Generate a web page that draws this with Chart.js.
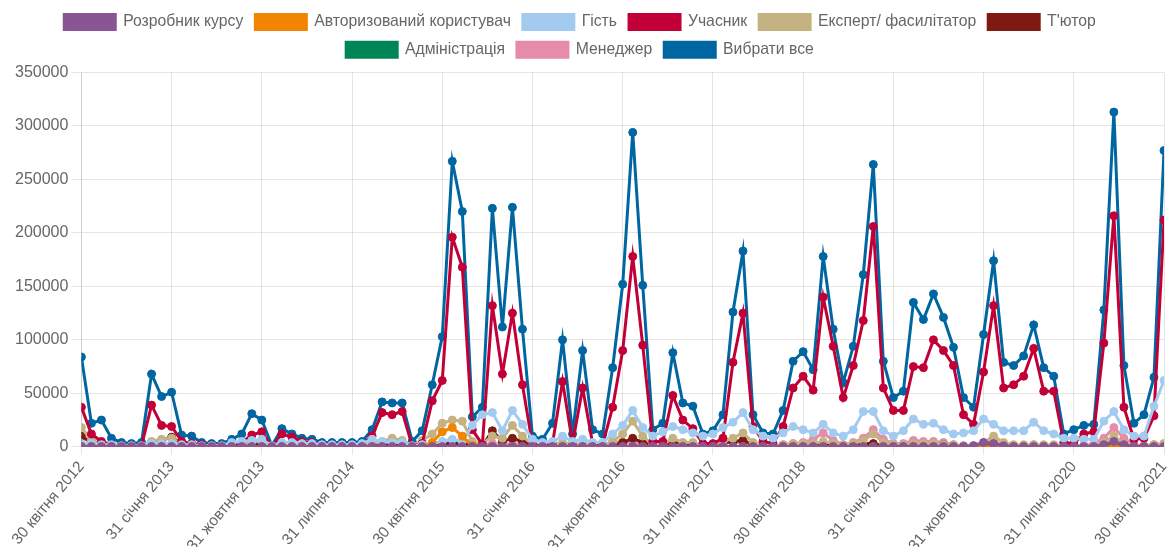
<!DOCTYPE html>
<html>
<head>
<meta charset="utf-8">
<script src="https://cdn.jsdelivr.net/npm/chart.js@4/dist/chart.umd.min.js"></script>
<style>
  html, body { margin: 0; padding: 0; background: #fff; }
  #wrap { width: 1171px; height: 547px; }
</style>
</head>
<body>
<div id="wrap"><canvas id="c" width="1171" height="547"></canvas></div>
<script>
// Tick labels every 9 months, from April 2012 to April 2021 (109 monthly points)
const tickLabels = ["30 квітня 2012","31 січня 2013","31 жовтня 2013","31 липня 2014","30 квітня 2015","31 січня 2016","31 жовтня 2016","31 липня 2017","30 квітня 2018","31 січня 2019","31 жовтня 2019","31 липня 2020","30 квітня 2021"];
const seriesNames = ["Розробник курсу","Авторизований користувач","Гість","Учасник","Експерт/ фасилітатор","Т'ютор","Адміністрація","Менеджер","Вибрати все"];

const courseDev = [300,300,300,300,300,300,300,300,300,300,
300,300,300,300,300,300,300,300,300,300,
300,300,300,300,300,300,300,300,300,300,
300,300,300,300,300,300,300,300,300,300,
300,300,300,300,300,300,300,300,300,300,
300,300,300,300,300,300,300,300,300,300,
300,300,300,300,300,300,300,300,300,300,
300,300,300,300,300,300,300,300,300,300,
300,300,300,300,300,300,300,300,300,1000,
4000,3000,1000,300,300,300,300,300,300,300,
300,300,2000,5000,2000,300,300,300,300];

const authorized = [0,0,0,0,0,0,0,0,0,0,
0,0,0,0,0,0,0,0,0,0,
0,0,0,0,0,0,0,0,0,0,
0,0,0,0,0,4000,14000,18000,10000,1000,
0,0,0,0,0,0,0,0,0,0,
0,0,0,0,0,0,0,0,0,0,
0,0,0,0,0,0,0,0,0,0,
0,0,0,0,0,0,0,0,0,0,
0,0,0,0,0,0,0,0,0,0,
0,0,0,0,0,0,0,0,0,0,
0,0,0,0,0,0,0,0,0];

const guest = [3000,3000,2000,2000,1000,1000,1000,3000,3000,3000,
2000,2000,1000,1000,1000,4000,5000,6000,7000,1000,
4000,4000,3000,3000,2000,2000,2000,2000,3000,7000,
5000,4000,4000,1000,2000,3000,5000,7000,5000,20000,
30000,32000,15000,34000,21000,7000,4000,5000,10000,5000,
7000,4000,4000,12000,20000,34000,18000,10000,14000,19000,
16000,13000,10000,12000,18000,23000,32000,16000,10000,8000,
13000,19000,16000,13000,21000,13000,10000,16000,33000,33000,
15000,10000,15000,26000,21000,22000,16000,12000,13000,15000,
26000,21000,15000,15000,15000,23000,15000,12000,8000,8000,
7000,7000,24000,33000,16000,10000,10000,38000,62000];

const participant = [37000,12000,5000,2000,1000,1000,1000,39000,20000,19000,
5000,3000,2000,1000,1000,2000,4000,11000,14000,0,
12000,9000,5000,4000,2000,2000,2000,2000,2000,10000,
32000,30000,33000,1000,3000,43000,62000,196000,168000,16000,
2000,132000,68000,125000,58000,2000,1000,3000,61000,3000,
55000,3000,2000,37000,90000,178000,95000,5000,5000,48000,
25000,17000,3000,3000,8000,79000,125000,19000,5000,3000,
19000,55000,66000,53000,140000,94000,46000,76000,118000,206000,
55000,34000,34000,75000,74000,100000,90000,76000,30000,21000,
70000,132000,55000,58000,66000,92000,52000,52000,4000,3000,
12000,14000,97000,216000,37000,7000,8000,29000,212000];

const expert = [18000,6000,3000,1000,1000,1000,1000,5000,7000,8000,
3000,2000,1000,1000,1000,1000,2000,5000,5000,0,
3000,2000,2000,1000,1000,1000,1000,1000,1000,3000,
5000,8000,6000,1000,6000,12000,22000,25000,24000,5000,
3000,10000,8000,20000,10000,2000,1000,2000,4000,2000,
3000,1000,1000,5000,12000,24000,10000,2000,2000,8000,
4000,4000,1000,2000,5000,8000,13000,4000,2000,1000,
2000,3000,3000,3000,5000,3000,2000,3000,6000,12000,
4000,2000,2000,3000,3000,3000,2000,2000,1000,1000,
4000,10000,4000,2000,2000,2000,2000,2000,1000,1000,
1000,1000,4000,10000,3000,1000,1000,2000,3000];

const tutor = [10000,4000,2000,1000,500,500,500,4000,6000,9000,
3000,1000,500,500,500,500,1000,3000,3000,0,
2000,1000,1000,500,500,500,500,500,500,1000,
2000,2000,2000,500,1000,2000,3000,4000,3000,1000,
1000,15000,5000,8000,5000,2000,500,500,1000,500,
1000,500,500,1000,4000,8000,4000,1000,1000,5000,
3000,2000,500,500,3000,5000,6000,2000,1000,500,
1000,1000,1000,1000,2000,1000,1000,1000,3000,3000,
1000,1000,1000,2000,2000,2000,2000,1000,500,500,
1000,2000,1000,500,500,1000,500,500,500,500,
500,500,1000,2000,1000,500,500,500,500];

const admin = [1000,0,0,0,0,0,0,0,0,0,
0,0,0,0,0,0,0,0,0,0,
0,0,0,0,0,0,0,0,0,0,
0,0,0,0,0,0,2000,4000,2000,0,
0,0,0,0,0,0,0,0,0,0,
0,0,0,0,0,0,0,0,0,0,
0,0,0,0,0,0,0,0,0,0,
0,0,0,0,0,0,0,0,0,0,
0,0,0,0,0,0,0,0,0,0,
0,0,0,0,0,0,0,0,0,0,
0,0,0,0,0,0,0,0,0];

const manager = [3000,1000,500,500,500,500,500,1000,1000,1000,
500,500,500,500,500,3000,3000,4000,3000,0,
1000,1000,500,500,500,500,500,500,1000,2000,
1000,1000,1000,500,500,1000,2000,3000,2000,2000,
2000,3000,2000,3000,2000,500,500,1000,2000,1000,
1000,500,500,5000,4000,3000,2000,1000,2000,2000,
1000,1000,500,1000,8000,5000,3000,2000,1000,500,
2000,3000,4000,7000,13000,6000,2000,4000,8000,16000,
7000,3000,3000,6000,5000,5000,4000,2000,1000,1000,
3000,5000,2000,1000,1000,2000,1000,1000,500,500,
1000,3000,8000,18000,8000,2000,1000,2000,3000];

const selectAll = [84000,22000,25000,8000,4000,3000,4000,68000,47000,51000,
11000,10000,4000,3000,3000,7000,12000,31000,25000,1000,
17000,12000,8000,7000,4000,4000,4000,4000,5000,16000,
42000,41000,41000,5000,15000,58000,103000,267000,220000,28000,
37000,223000,112000,224000,110000,10000,7000,22000,100000,12000,
90000,16000,12000,74000,152000,294000,151000,16000,22000,88000,
41000,38000,12000,15000,30000,126000,183000,30000,13000,12000,
34000,80000,89000,72000,178000,110000,60000,94000,161000,264000,
80000,46000,52000,135000,119000,143000,121000,93000,46000,37000,
105000,174000,79000,76000,85000,114000,74000,66000,12000,16000,
20000,21000,128000,313000,76000,22000,30000,65000,277000];

const allSeries = [courseDev, authorized, guest, participant, expert, tutor, admin, manager, selectAll];
const colors = ["#8a5593","#f28500","#a3cbf0","#c20037","#c4b380","#7e1a12","#008656","#e68ba8","#0066a2"];

const datasets = allSeries.map((vals, k) => ({
  label: seriesNames[k],
  data: vals.map((v, i) => ({ x: i, y: v })),
  borderColor: colors[k],
  backgroundColor: colors[k],
  pointBackgroundColor: colors[k],
  pointBorderColor: colors[k],
  borderWidth: 3,
  pointRadius: 4,
  pointBorderWidth: 1,
  tension: 0,
  fill: false
}));

Chart.defaults.font.family = "'Liberation Sans', Arial, sans-serif";
Chart.defaults.color = "#666";

const legendSpacing = {
  id: 'legendSpacing',
  beforeInit(chart) {
    const lg = chart.legend;
    const origFit = lg.fit;
    lg.fit = function () {
      origFit.bind(lg)();
      this.height += 5;
    };
    const origDraw = lg.draw;
    lg.draw = function () {
      const ctx = chart.ctx;
      ctx.save();
      ctx.translate(-8, 0);
      origDraw.bind(lg)();
      ctx.restore();
    };
  }
};

new Chart(document.getElementById('c'), {
  type: 'line',
  data: { datasets },
  plugins: [legendSpacing],
  options: {
    responsive: false,
    animation: false,
    layout: { padding: { left: 12, right: 7, top: 2, bottom: 0 } },
    plugins: {
      legend: {
        position: 'top',
        labels: { boxWidth: 51, boxHeight: 15, padding: 12, font: { size: 15.75 }, color: '#666' }
      },
      tooltip: { enabled: false }
    },
    scales: {
      x: {
        type: 'linear',
        min: 0, max: 108,
        afterFit: (scale) => { scale.height -= 11; scale.paddingRight = 0; },
        ticks: {
          stepSize: 9,
          autoSkip: false,
          minRotation: 50, maxRotation: 50,
          font: { size: 15.5 }, color: '#666',
          callback: (v) => tickLabels[v / 9] || ''
        },
        grid: { color: 'rgba(0,0,0,0.1)', tickLength: 8 },
        border: { display: true, color: 'rgba(0,0,0,0.1)' }
      },
      y: {
        min: 0, max: 350000,
        ticks: { stepSize: 50000, font: { size: 16 }, color: '#666', callback: (v) => String(v) },
        grid: { color: 'rgba(0,0,0,0.1)', tickLength: 10 },
        border: { display: true, color: 'rgba(0,0,0,0.1)' }
      }
    }
  }
});
</script>
</body>
</html>
